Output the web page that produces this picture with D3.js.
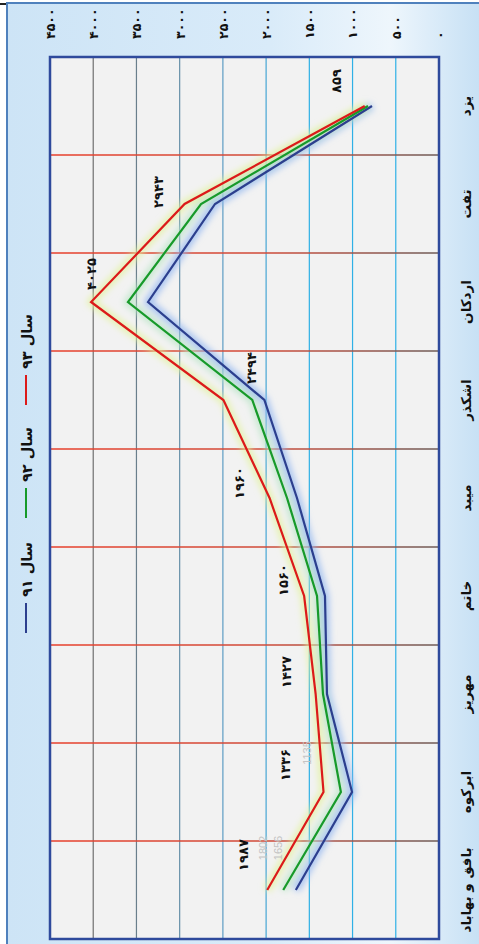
<!DOCTYPE html>
<html>
<head>
<meta charset="utf-8">
<script src="https://cdn.jsdelivr.net/npm/d3@7"></script>
<style>
  html, body { margin: 0; padding: 0; background: #ffffff; }
  svg { display: block; }
  text { font-family: "DejaVu Sans", sans-serif; }
</style>
</head>
<body>
<svg id="chart" width="479" height="944"></svg>
<script>
// Cities (top to bottom of the rotated chart)
const categories = ["یزد", "تفت", "اردکان", "اشکذر", "میبد", "خاتم", "مهریز", "ابرکوه", "بافق و بهاباد"];

// Series values per city
const year91 = [775, 2591, 3366, 2020, 1643, 1319, 1296, 1006, 1656];
const year92 = [821, 2753, 3598, 2160, 1758, 1411, 1342, 1135, 1802];
const year93 = [859, 2943, 4025, 2494, 1960, 1560, 1427, 1336, 1987];

const seriesNames = ["سال ۹۱", "سال ۹۲", "سال ۹۳"];
const tickValues = [0, 500, 1000, 1500, 2000, 2500, 3000, 3500, 4000, 4500];

const W = 479, H = 944;
const svg = d3.select("#chart");
const defs = svg.append("defs");

const toFa = s => String(s).replace(/\d/g, d => String.fromCharCode(0x06F0 + (+d)));

// background gradient
const bg = defs.append("linearGradient").attr("id", "bgGrad")
  .attr("x1", "0%").attr("y1", "0%").attr("x2", "100%").attr("y2", "0%");
bg.append("stop").attr("offset", "0%").attr("stop-color", "#cde4f6");
bg.append("stop").attr("offset", "55%").attr("stop-color", "#d9ebf9");
bg.append("stop").attr("offset", "80%").attr("stop-color", "#eef6fc");
bg.append("stop").attr("offset", "100%").attr("stop-color", "#c4dff4");

const glow = defs.append("filter").attr("id", "glow")
  .attr("x", "-20%").attr("y", "-20%").attr("width", "140%").attr("height", "140%");
glow.append("feGaussianBlur").attr("stdDeviation", 3.2);

// outer frame
svg.append("line").attr("x1", 0).attr("x2", 8).attr("y1", 4).attr("y2", 4)
  .attr("stroke", "#222").attr("stroke-width", 2);
svg.append("rect").attr("x", 7).attr("y", 3).attr("width", W).attr("height", H)
  .attr("fill", "url(#bgGrad)").attr("stroke", "#4f81bd").attr("stroke-width", 2);

// plot scales
const plot = { left: 50, right: 439, top: 57, bottom: 939 };
const x = d3.scaleLinear().domain([0, 4500]).range([plot.right, plot.left]);
const y = d3.scaleBand().domain(categories).range([plot.top, plot.bottom]);
const yc = c => y(c) + y.bandwidth() / 2;

svg.append("rect")
  .attr("x", plot.left).attr("y", plot.top)
  .attr("width", plot.right - plot.left).attr("height", plot.bottom - plot.top)
  .attr("fill", "#f2f2f2");

// value gridlines: grey on the high side, cyan on the low side
const vCol = d3.scaleLinear().domain([4000, 2500, 1500]).range(["#707070", "#5f9ec4", "#2fb0e6"]).clamp(true);
svg.append("g").selectAll("line")
  .data(tickValues.filter(v => v > 0 && v < 4500))
  .join("line")
  .attr("x1", d => x(d)).attr("x2", d => x(d))
  .attr("y1", plot.top).attr("y2", plot.bottom)
  .attr("stroke", d => vCol(d)).attr("stroke-width", 1.2);

// category separators: red fading to grey
const hGrad = defs.append("linearGradient").attr("id", "hGrad")
  .attr("gradientUnits", "userSpaceOnUse")
  .attr("x1", plot.left).attr("x2", plot.right).attr("y1", 0).attr("y2", 0);
hGrad.append("stop").attr("offset", "0%").attr("stop-color", "#e8402c");
hGrad.append("stop").attr("offset", "55%").attr("stop-color", "#d04a38");
hGrad.append("stop").attr("offset", "100%").attr("stop-color", "#6e5c58");
svg.append("g").selectAll("line")
  .data(categories.slice(1))
  .join("line")
  .attr("x1", plot.left).attr("x2", plot.right)
  .attr("y1", d => y(d)).attr("y2", d => y(d))
  .attr("stroke", "url(#hGrad)").attr("stroke-width", 1.3);

// series
const series = [
  { name: seriesNames[0], values: year91, color: "#2c3f8e", glow: "#8fb4f0" },
  { name: seriesNames[1], values: year92, color: "#179a2a", glow: "#b8e4c4" },
  { name: seriesNames[2], values: year93, color: "#dc1a1a", glow: "#e2f29c" }
];
const line = d3.line().x(d => x(d.v)).y(d => yc(d.c));
const pts = s => s.values.map((v, i) => ({ v, c: categories[i] }));

svg.append("g").attr("filter", "url(#glow)").selectAll("path")
  .data(series).join("path")
  .attr("d", s => line(pts(s)))
  .attr("fill", "none").attr("stroke", s => s.glow)
  .attr("stroke-width", 8).attr("stroke-opacity", 0.75)
  .attr("stroke-linejoin", "round");

svg.append("g").selectAll("path")
  .data(series).join("path")
  .attr("d", s => line(pts(s)))
  .attr("fill", "none").attr("stroke", s => s.color)
  .attr("stroke-width", 2.2).attr("stroke-linejoin", "miter");

// plot frame
svg.append("rect")
  .attr("x", plot.left).attr("y", plot.top)
  .attr("width", plot.right - plot.left).attr("height", plot.bottom - plot.top)
  .attr("fill", "none").attr("stroke", "#2f4a9c").attr("stroke-width", 2.5);

// value axis along the top
const xAxis = svg.append("g").attr("transform", "translate(0,39)")
  .call(d3.axisTop(x).tickValues(tickValues).tickSize(0).tickPadding(0).tickFormat(toFa));
xAxis.select(".domain").remove();
xAxis.selectAll("text")
  .attr("transform", "rotate(-90)")
  .attr("x", 0).attr("y", 0).attr("dy", "0.35em")
  .attr("text-anchor", "start")
  .style("font-family", "DejaVu Sans, sans-serif")
  .style("font-size", "12.5px").style("font-weight", "bold").attr("fill", "#111");

// category axis on the right
const yAxis = svg.append("g").attr("transform", "translate(466,0)")
  .call(d3.axisRight(y).tickSize(0).tickPadding(0));
yAxis.select(".domain").remove();
yAxis.selectAll("text")
  .attr("transform", "rotate(-90)")
  .attr("x", 0).attr("y", 0).attr("dy", "0.35em")
  .attr("text-anchor", "middle")
  .style("font-family", "DejaVu Sans, sans-serif")
  .style("font-size", "13.5px").style("font-weight", "bold").attr("fill", "#111");

// value labels for سال ۹۳, nudged clear of the lines
const labelNudge = [[-28, -25], [-26, -12], [0, -28], [28, -32], [-30, -15], [-21, -16], [-29, -22], [-38, -27], [-24, -35]];
svg.append("g").selectAll("text")
  .data(year93.map((v, i) => ({ v, c: categories[i], n: labelNudge[i] })))
  .join("text")
  .attr("transform", d => `translate(${x(d.v) + d.n[0]},${yc(d.c) + d.n[1]}) rotate(-90)`)
  .attr("dy", "0.35em").attr("text-anchor", "middle")
  .style("font-size", "13px").style("font-weight", "bold").attr("fill", "#111")
  .text(d => toFa(d.v));

// faint leftover labels of the other years
const faint = [
  { s: year92, i: 8, n: [-20, -42] },
  { s: year91, i: 8, n: [-18, -42] },
  { s: year92, i: 7, n: [-34, -39] }
];
svg.append("g").selectAll("text")
  .data(faint).join("text")
  .attr("transform", d => `translate(${x(d.s[d.i]) + d.n[0]},${yc(categories[d.i]) + d.n[1]}) rotate(-90)`)
  .attr("dy", "0.35em").attr("text-anchor", "middle")
  .style("font-family", "Liberation Sans, sans-serif")
  .style("font-size", "11px").attr("fill", "#c4c4c4")
  .text(d => d.s[d.i]);

// legend on the left
const legendStart = [633, 518, 405];
const lg = svg.append("g").selectAll("g").data(series).join("g")
  .attr("transform", (s, i) => `translate(26,${legendStart[i]})`);
lg.append("line").attr("x1", 0).attr("x2", 0).attr("y1", 0).attr("y2", -30)
  .attr("stroke", s => s.color).attr("stroke-width", 2);
lg.append("text")
  .attr("transform", "translate(1,-36) rotate(-90)")
  .attr("dy", "0.35em").attr("text-anchor", "start")
  .style("font-size", "14.5px").style("font-weight", "bold").attr("fill", "#111")
  .text(s => s.name);
</script>
</body>
</html>
